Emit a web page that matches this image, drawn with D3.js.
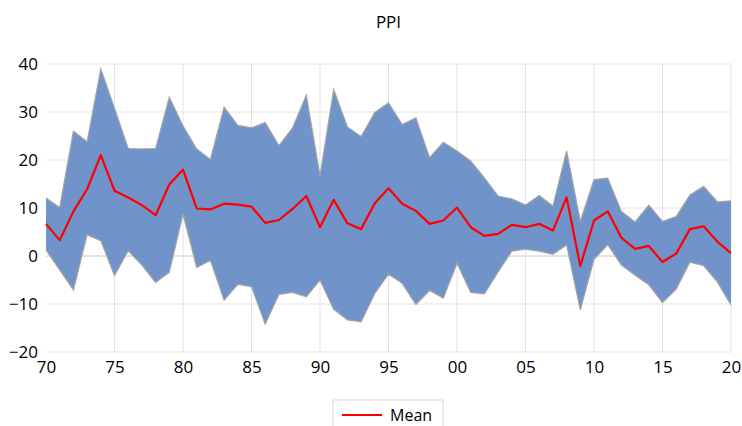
<!DOCTYPE html>
<html>
<head>
<meta charset="utf-8">
<script src="https://cdn.jsdelivr.net/npm/d3@7"></script>
<style>
  body { margin: 0; background: #fff; }
  svg { display: block; font-family: "Open Sans", "Liberation Sans", sans-serif; }
</style>
</head>
<body>
<div id="chart"></div>
<script>
// PPI band chart: spread (upper / lower) with mean line
const years = d3.range(1970, 2021);

const upper = [12.1, 10.1, 26.0, 23.8, 39.0, 30.8, 22.4, 22.3, 22.4, 33.1,
  27.1, 22.3, 20.1, 31.0, 27.2, 26.7, 27.8, 23.0, 26.7, 33.5,
  16.7, 34.7, 26.9, 24.9, 29.9, 31.9, 27.4, 28.8, 20.5, 23.7,
  21.9, 19.8, 16.3, 12.5, 11.9, 10.6, 12.6, 10.4, 21.9, 7.2,
  15.9, 16.2, 9.3, 7.1, 10.6, 7.2, 8.2, 12.7, 14.5, 11.3, 11.5];

const mean = [6.7, 3.3, 9.3, 13.9, 21.0, 13.6, 12.2, 10.6, 8.5, 14.9,
  18.0, 9.9, 9.7, 10.9, 10.7, 10.3, 6.9, 7.5, 9.8, 12.5,
  6.0, 11.7, 6.8, 5.6, 11.0, 14.1, 10.9, 9.4, 6.7, 7.4,
  10.1, 6.0, 4.2, 4.6, 6.5, 6.0, 6.7, 5.3, 12.2, -2.1,
  7.4, 9.3, 3.8, 1.5, 2.1, -1.25, 0.5, 5.6, 6.2, 3.0, 0.6];

const lower = [1.25, -2.9, -7.1, 4.4, 3.2, -4.1, 1.1, -1.9, -5.5, -3.4,
  8.75, -2.4, -0.9, -9.2, -5.9, -6.4, -14.2, -8.0, -7.6, -8.5,
  -5.0, -11.1, -13.3, -13.7, -7.8, -3.8, -5.7, -10.1, -7.2, -8.8,
  -1.5, -7.6, -7.9, -3.3, 1.0, 1.4, 1.0, 0.35, 2.3, -11.25,
  -0.7, 2.35, -1.9, -4.0, -6.0, -9.7, -6.9, -1.3, -2.0, -5.4, -10.2];

const yTicks = [-20, -10, 0, 10, 20, 30, 40];
const xTicks = d3.range(1970, 2021, 5);

const data = years.map((yr, i) => ({ year: yr, hi: upper[i], lo: lower[i], mean: mean[i] }));

const width = 742, height = 426;
const margin = { top: 64, right: 11, bottom: 74, left: 46 };

const svg = d3.select("#chart").append("svg")
  .attr("width", width)
  .attr("height", height);

const x = d3.scaleLinear()
  .domain([1970, 2020])
  .range([margin.left, width - margin.right]);

const y = d3.scaleLinear()
  .domain([-20, 40])
  .range([height - margin.bottom, margin.top]);

// Title
svg.append("text")
  .attr("x", (margin.left + width - margin.right) / 2)
  .attr("y", 28)
  .attr("text-anchor", "middle")
  .style("font-size", "17px")
  .style("fill", "#000")
  .text("PPI");

// Grid
svg.append("g")
  .selectAll("line")
  .data(yTicks)
  .enter().append("line")
  .attr("x1", x(1970))
  .attr("x2", x(2020))
  .attr("y1", d => y(d))
  .attr("y2", d => y(d))
  .attr("stroke", d => d === 0 ? "#c8c8c8" : "#e3e3e3")
  .attr("stroke-width", 1);

svg.append("g")
  .selectAll("line")
  .data(xTicks.slice(1))
  .enter().append("line")
  .attr("x1", d => x(d))
  .attr("x2", d => x(d))
  .attr("y1", y(40))
  .attr("y2", y(-20))
  .attr("stroke", "#e3e3e3")
  .attr("stroke-width", 1);

// Band
const area = d3.area()
  .x(d => x(d.year))
  .y0(d => y(d.lo))
  .y1(d => y(d.hi));

svg.append("path")
  .datum(data)
  .attr("d", area)
  .attr("fill", "#7093c9");

const edge = key => d3.line().x(d => x(d.year)).y(d => y(d[key]));

["hi", "lo"].forEach(k => {
  svg.append("path")
    .datum(data)
    .attr("d", edge(k))
    .attr("fill", "none")
    .attr("stroke", "#a5a5a5")
    .attr("stroke-width", 1.2);
});

// Mean line
svg.append("path")
  .datum(data)
  .attr("d", edge("mean"))
  .attr("fill", "none")
  .attr("stroke", "#ff0000")
  .attr("stroke-width", 2.2)
  .attr("stroke-linejoin", "round");

// Axes
const yAxis = d3.axisLeft(y).tickValues(yTicks).tickSize(0).tickPadding(8);
const yG = svg.append("g")
  .attr("transform", `translate(${margin.left},0)`)
  .call(yAxis);
yG.select(".domain").remove();
yG.selectAll("text")
  .style("font-size", "17px")
  .style("fill", "#000")
  .style("font-family", "'Open Sans', sans-serif");

const xAxis = d3.axisBottom(x)
  .tickValues(xTicks)
  .tickSize(0)
  .tickPadding(9)
  .tickFormat(d => String(d % 100).padStart(2, "0"));
const xG = svg.append("g")
  .attr("transform", `translate(0,${y(-20)})`)
  .call(xAxis);
xG.select(".domain").remove();
xG.selectAll("text")
  .style("font-size", "17px")
  .style("fill", "#000")
  .style("font-family", "'Open Sans', sans-serif");

// Legend
const legend = svg.append("g").attr("transform", "translate(333,400)");
legend.append("rect")
  .attr("width", 110)
  .attr("height", 30)
  .attr("fill", "#fff")
  .attr("stroke", "#d9d9d9");
legend.append("line")
  .attr("x1", 9).attr("x2", 49)
  .attr("y1", 15).attr("y2", 15)
  .attr("stroke", "#ff0000")
  .attr("stroke-width", 2);
legend.append("text")
  .attr("x", 57)
  .attr("y", 15)
  .attr("dy", "0.35em")
  .style("font-size", "16px")
  .style("fill", "#000")
  .text("Mean");
</script>
</body>
</html>
